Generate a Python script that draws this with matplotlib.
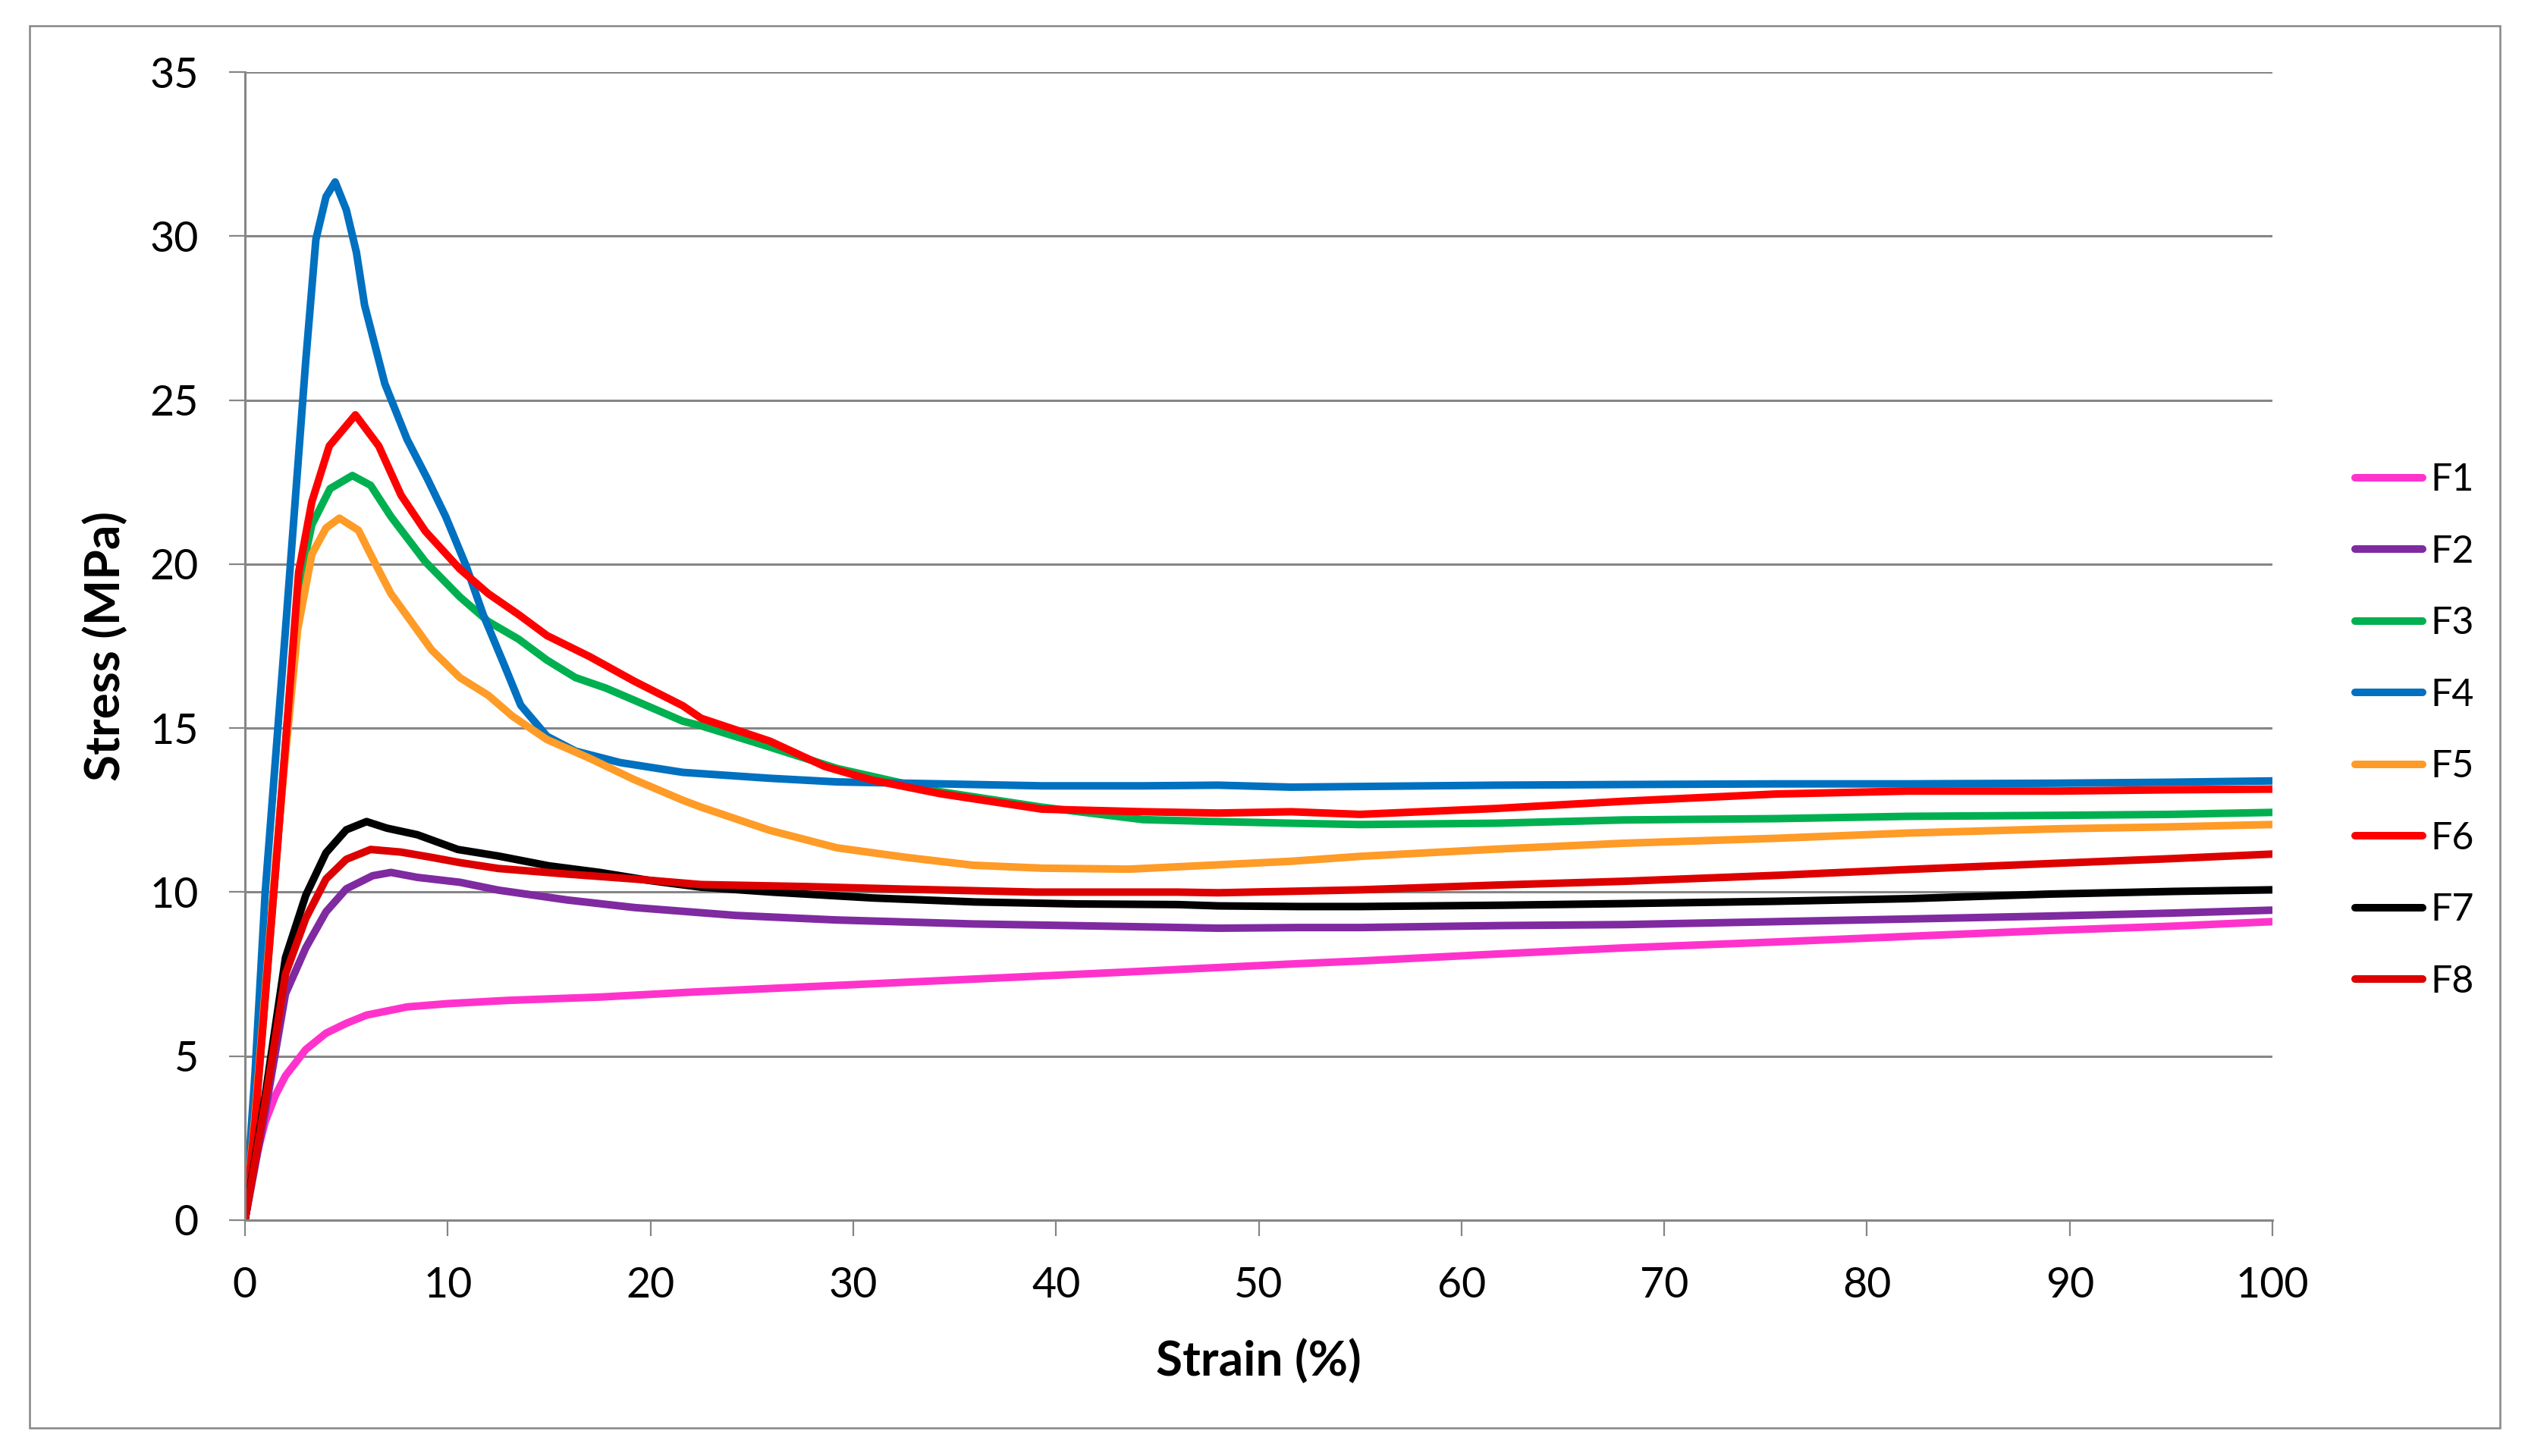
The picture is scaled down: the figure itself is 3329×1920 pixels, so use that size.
import matplotlib
matplotlib.use("Agg")
import matplotlib.pyplot as plt
from matplotlib.patches import Rectangle

# Stress-strain curves
f1_x = [0, 0.5, 1, 1.5, 2, 3, 4, 5, 6, 8, 10, 13, 17.5, 22, 29, 36, 43, 48, 52, 55, 62, 68, 75.5, 82, 89, 95, 100]
f1_y = [0, 1.8, 3.0, 3.8, 4.4, 5.2, 5.7, 6.0, 6.25, 6.5, 6.6, 6.7, 6.8, 6.95, 7.15, 7.35, 7.55, 7.7, 7.82, 7.9, 8.12, 8.3, 8.48, 8.65, 8.83, 8.96, 9.1]

f2_x = [0, 1, 2, 3, 4, 5, 6.3, 7.2, 8.5, 10.6, 12.5, 15.9, 19.2, 24.2, 29.2, 35.9, 42.6, 48, 52, 55, 62, 68, 75.5, 82, 89, 95, 100]
f2_y = [0, 3.3, 6.9, 8.3, 9.4, 10.1, 10.5, 10.6, 10.45, 10.3, 10.06, 9.76, 9.53, 9.29, 9.15, 9.03, 8.96, 8.9, 8.92, 8.92, 8.98, 9.01, 9.1, 9.18, 9.27, 9.36, 9.45]

f3_x = [0, 0.5, 1, 1.58, 2, 2.65, 3.3, 4.2, 5.3, 6.2, 7.2, 8.9, 10.6, 12, 13.5, 14.9, 16.3, 17.8, 19.2, 21.6, 22.5,
        25.9, 29.2, 34.3, 39.3, 44.3, 48, 51.6, 55, 61.7, 68, 75.5, 82, 89.4, 95, 100]
f3_y = [0, 3, 6.8, 11.2, 14.5, 19.3, 21.2, 22.3, 22.7, 22.4, 21.45, 20.07, 19.0, 18.25, 17.71, 17.07, 16.54, 16.22, 15.85, 15.21, 15.07,
        14.42, 13.77, 13.06, 12.59, 12.21, 12.15, 12.1, 12.06, 12.1, 12.2, 12.24, 12.31, 12.34, 12.37, 12.43]

f4_x = [0, 0.5, 1, 2, 3, 3.5, 4, 4.45, 5, 5.5, 5.9, 6.9, 8, 9, 9.9, 10.9, 11.75, 12.76, 13.6, 14.9, 16.3, 18.5, 21.6,
        25.9, 29.2, 34.3, 39.3, 44.3, 48, 51.6, 55, 61.7, 68, 75.5, 82, 89.4, 95, 100]
f4_y = [0, 4.5, 10, 18, 26.2, 29.9, 31.2, 31.65, 30.8, 29.5, 27.9, 25.5, 23.8, 22.6, 21.45, 19.96, 18.46, 16.97, 15.7, 14.75, 14.3, 13.95, 13.65,
        13.47, 13.36, 13.3, 13.24, 13.24, 13.26, 13.2, 13.22, 13.26, 13.28, 13.3, 13.3, 13.32, 13.35, 13.39]

f5_x = [0, 0.5, 1, 1.6, 2, 2.6, 3.3, 4, 4.66, 5.6, 6.3, 7.2, 9.2, 10.6, 12, 13.2, 14.9, 17, 19.2, 21.6, 22.5, 25.9,
        29.2, 32.6, 35.9, 39.3, 43.6, 47.6, 51.6, 55, 61.7, 68, 75.5, 82, 89.4, 95, 100]
f5_y = [0, 3.2, 7, 11.5, 14.2, 18, 20.3, 21.1, 21.4, 21.03, 20.17, 19.1, 17.39, 16.54, 16.0, 15.36, 14.65, 14.08, 13.43, 12.8, 12.59, 11.88,
        11.35, 11.06, 10.82, 10.73, 10.7, 10.82, 10.94, 11.09, 11.31, 11.49, 11.64, 11.8, 11.93, 11.99, 12.06]

f6_x = [0, 0.5, 1, 1.58, 2, 2.65, 3.3, 4.16, 5.45, 6.6, 7.7, 8.9, 10.6, 12, 13.5, 14.9, 17, 19.2, 21.6, 22.5, 25.9,
        28.6, 30.9, 34.3, 39.3, 44.3, 48, 51.6, 55, 61.7, 68, 75.5, 82, 89.4, 95, 100]
f6_y = [0, 3, 6.8, 11.2, 14.5, 19.75, 21.9, 23.6, 24.55, 23.6, 22.1, 21.0, 19.85, 19.1, 18.46, 17.82, 17.18, 16.43, 15.68, 15.3, 14.6,
        13.83, 13.42, 13.0, 12.53, 12.45, 12.41, 12.45, 12.37, 12.55, 12.77, 12.99, 13.08, 13.08, 13.12, 13.14]

f7_x = [0, 1, 2, 3, 4, 5, 6, 7, 8.5, 10.5, 12.5, 15, 17.5, 20, 22.5, 26, 31, 36, 41, 46, 48, 52, 55, 62, 68, 75.5, 82, 89, 95, 100]
f7_y = [0, 3.8, 8.0, 9.9, 11.2, 11.9, 12.15, 11.95, 11.75, 11.3, 11.1, 10.8, 10.6, 10.35, 10.15, 10.0, 9.82, 9.7, 9.64, 9.62, 9.58, 9.56,
        9.56, 9.6, 9.65, 9.72, 9.8, 9.94, 10.02, 10.07]

f8_x = [0, 1, 2, 3, 4, 5, 6.2, 7.7, 9.2, 10.6, 12.5, 15.9, 19.2, 22.5, 27.6, 32.6, 39, 46, 48, 52, 55, 62, 68, 75.5, 82, 89, 95, 100]
f8_y = [0, 3.6, 7.5, 9.2, 10.4, 11.0, 11.3, 11.22, 11.06, 10.9, 10.72, 10.55, 10.4, 10.23, 10.17, 10.09, 10.0, 10.0, 9.98, 10.03,
        10.07, 10.22, 10.33, 10.51, 10.69, 10.87, 11.02, 11.16]

labels = ["F1", "F2", "F3", "F4", "F5", "F6", "F7", "F8"]
colors = ["#FF33CC", "#7F2AA0", "#00B050", "#0070C0", "#FF9B27", "#FF0000", "#000000", "#DD0000"]
series = [(f1_x, f1_y), (f2_x, f2_y), (f3_x, f3_y), (f4_x, f4_y),
          (f5_x, f5_y), (f6_x, f6_y), (f7_x, f7_y), (f8_x, f8_y)]

GRAY = "#868686"
plt.rcParams["font.family"] = ["Lato", "DejaVu Sans"]

fig = plt.figure(figsize=(33.29, 19.2), dpi=100)
ax = fig.add_axes([0.097, 0.162, 0.803, 0.7885])

for (xs, ys), lab, col in zip(series, labels, colors):
    ax.plot(xs, ys, color=col, lw=7.2, label=lab,
            solid_capstyle="round", solid_joinstyle="round")

ax.set_xlim(0, 100)
ax.set_ylim(0, 35)
ax.set_xticks(range(0, 101, 10))
ax.set_yticks(range(0, 36, 5))
ax.grid(axis="y", color=GRAY, lw=2.2)
ax.set_axisbelow(True)
for side in ["top", "right"]:
    ax.spines[side].set_visible(False)
for side in ["left", "bottom"]:
    ax.spines[side].set_color(GRAY)
    ax.spines[side].set_linewidth(2.2)
ax.tick_params(axis="both", direction="out", length=15, width=1.6, color=GRAY,
               labelsize=40, pad=29)

ax.set_xlabel("Strain (%)", fontsize=46, fontweight="bold", va="center")
ax.set_ylabel("Stress (MPa)", fontsize=46, fontweight="bold", va="center")
ax.xaxis.set_label_coords(0.5, -0.122)
ax.yaxis.set_label_coords(-0.069, 0.5)

fig.legend(loc="center left", bbox_to_anchor=(0.9327, 0.498), frameon=False,
           fontsize=36, handlelength=1.78, handletextpad=0.2, labelspacing=0.97,
           borderpad=0, borderaxespad=0)

# chart area border
fig.patches.append(Rectangle((39 / 3329, 1 - 1883 / 1920), (3296 - 39) / 3329, (1883 - 34) / 1920,
                             transform=fig.transFigure, fill=False, edgecolor=GRAY, lw=1.8))

fig.savefig("out.png", dpi=100)
